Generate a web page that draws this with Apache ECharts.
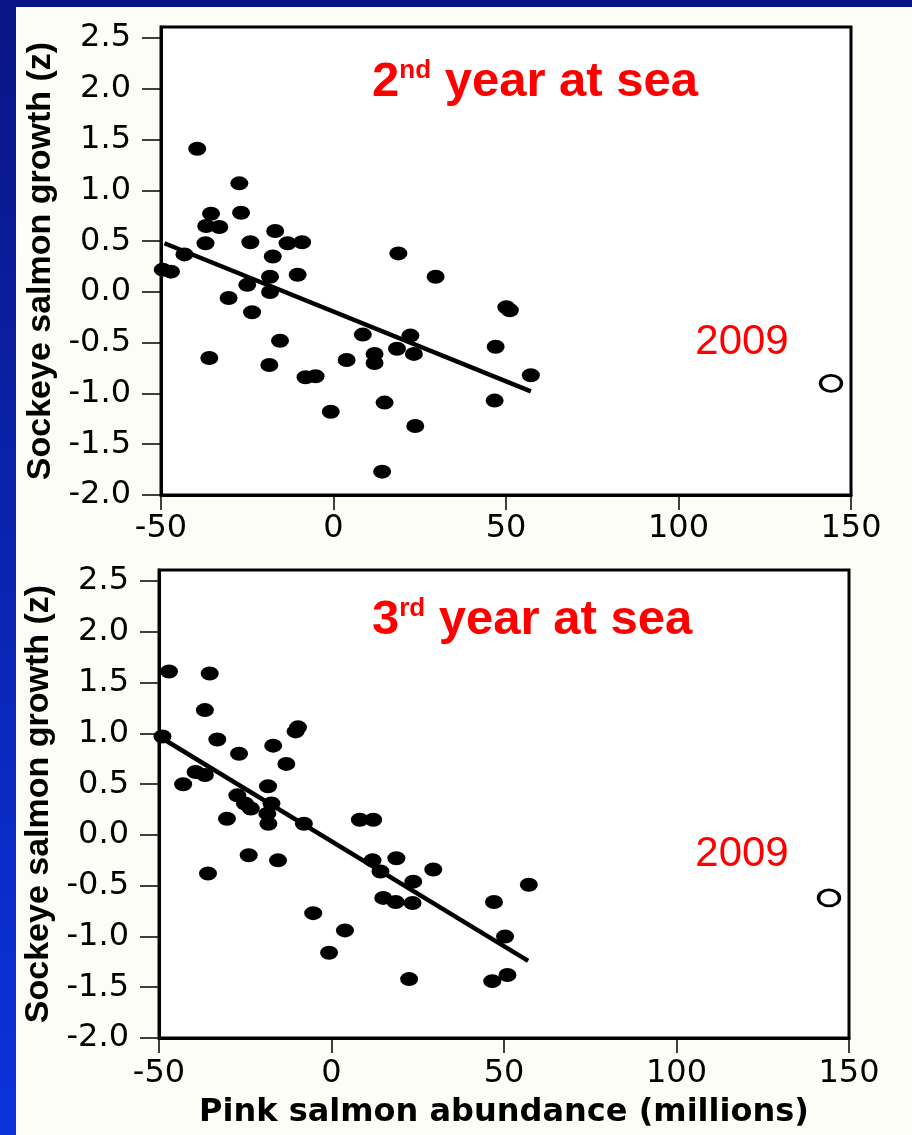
<!DOCTYPE html>
<html>
<head>
<meta charset="utf-8">
<title>Sockeye salmon growth vs pink salmon abundance</title>
<script src="https://cdn.jsdelivr.net/npm/echarts@6/dist/echarts.min.js"></script>
<style>
  html, body { margin: 0; padding: 0; background: #fdfdf8; }
  #chart { width: 912px; height: 1135px; }
</style>
</head>
<body>
<div id="chart"></div>
<script>
  // 2nd year at sea: pink salmon abundance (millions) and sockeye growth (z)
  const pink2nd = [-39.5, -27.3, -35.5, -26.8, -36.9, -33.1, -16.9, -37.1, -24.1, -13.3,
    -9.1, -43.2, -17.6, 18.8, -49.5, -47.1, -18.4, -10.4, 29.6, -25.0,
    -18.4, -30.4, -23.6, 50.1, 51.1, -15.5, 8.5, 22.3, 47.0, 18.4,
    23.3, -36.0, 3.8, 11.9, 11.9, -18.6, -8.1, -5.2, 57.2, 46.7,
    14.8, -0.8, 23.7, 14.1];
  const growth2nd = [1.41, 1.07, 0.77, 0.78, 0.65, 0.64, 0.60, 0.48, 0.49, 0.48,
    0.49, 0.37, 0.35, 0.38, 0.22, 0.20, 0.15, 0.17, 0.15, 0.07,
    0.00, -0.06, -0.20, -0.15, -0.18, -0.48, -0.42, -0.43, -0.54, -0.56,
    -0.61, -0.65, -0.67, -0.61, -0.70, -0.72, -0.84, -0.83, -0.82, -1.07,
    -1.09, -1.18, -1.32, -1.77];
  const fitPink2nd = [-49.0, 57.2];
  const fitGrowth2nd = [0.48, -0.98];

  // 3rd year at sea
  const pink3rd = [-47.1, -35.3, -36.7, -49.0, -9.7, -10.4, -33.1, -26.8, -16.9, -13.1,
    -39.4, -36.7, -43.0, -18.4, -27.3, -17.4, -25.1, -23.4, -18.6, -30.3,
    -18.3, -8.0, 8.2, 12.1, -24.0, -15.5, -35.8, 11.9, 18.8, 14.2,
    29.5, 23.7, 57.2, 15.0, 18.6, 23.5, 47.1, -5.3, 3.9, 50.3,
    -0.7, 22.5, 46.6, 51.0];
  const growth3rd = [1.61, 1.59, 1.23, 0.97, 1.06, 1.02, 0.94, 0.80, 0.88, 0.70,
    0.62, 0.59, 0.50, 0.48, 0.39, 0.31, 0.31, 0.26, 0.21, 0.16,
    0.11, 0.11, 0.15, 0.15, -0.20, -0.25, -0.38, -0.25, -0.23, -0.36,
    -0.34, -0.46, -0.49, -0.62, -0.66, -0.67, -0.66, -0.77, -0.94, -1.00,
    -1.16, -1.42, -1.44, -1.38];
  const fitPink3rd = [-49.0, 57.0];
  const fitGrowth3rd = [0.95, -1.24];

  // 2009 (open circle)
  const pink2009 = 144.2;
  const growth2009 = [-0.90, -0.62];

  const xTicks = [-50, 0, 50, 100, 150];
  const yTicks = [-2.0, -1.5, -1.0, -0.5, 0.0, 0.5, 1.0, 1.5, 2.0, 2.5];
  const yTop = 2.61; // box top sits a little above the 2.5 tick

  const zip = (xs, ys) => xs.map((x, i) => [x, ys[i]]);

  const arial = '"Liberation Sans", Arial, sans-serif';
  const dejavu = '"DejaVu Sans", sans-serif';

  function makeX(idx, withName) {
    const ax = {
      type: 'value',
      gridIndex: idx,
      min: xTicks[0],
      max: xTicks[xTicks.length - 1],
      interval: 50,
      axisLine: { show: true, onZero: false, lineStyle: { color: '#000', width: 3 } },
      axisTick: { show: true, length: 15, lineStyle: { color: '#000', width: 1.5 } },
      axisLabel: { margin: idx === 0 ? 18 : 20, fontSize: 32, fontFamily: dejavu, color: '#000' },
      splitLine: { show: false }
    };
    if (withName) {
      ax.name = 'Pink salmon abundance (millions)';
      ax.nameLocation = 'middle';
      ax.nameGap = 59;
      ax.nameTextStyle = { fontSize: 32, fontWeight: 'bold', fontFamily: dejavu, color: '#000' };
    }
    return ax;
  }

  function makeY(idx) {
    return {
      type: 'value',
      gridIndex: idx,
      min: yTicks[0],
      max: yTop,
      interval: 0.5,
      name: 'Sockeye salmon growth (z)',
      nameLocation: 'middle',
      nameRotate: 90,
      nameGap: 100,
      nameTextStyle: { fontSize: 34, fontWeight: 'bold', fontFamily: arial, color: '#000' },
      axisLine: { show: true, onZero: false, lineStyle: { color: '#000', width: 3 } },
      axisTick: { show: true, length: 19, customValues: yTicks, lineStyle: { color: '#000', width: 1.5 } },
      axisLabel: {
        margin: 30, fontSize: 32, fontFamily: dejavu, color: '#000',
        customValues: yTicks,
        formatter: v => (Math.abs(v * 2 - Math.round(v * 2)) > 1e-6 ? '' : v.toFixed(1))
      },
      splitLine: { show: false }
    };
  }

  function dots(idx, xs, ys) {
    return {
      type: 'scatter', xAxisIndex: idx, yAxisIndex: idx,
      data: zip(xs, ys),
      symbol: 'circle', symbolSize: [18, 14],
      itemStyle: { color: '#000', opacity: 1 },
      silent: true
    };
  }

  function fit(idx, xs, ys) {
    return {
      type: 'line', xAxisIndex: idx, yAxisIndex: idx,
      data: zip(xs, ys),
      symbol: 'none',
      lineStyle: { color: '#000', width: 4.5, opacity: 1 },
      silent: true, z: 3
    };
  }

  function open2009(idx, y) {
    return {
      type: 'scatter', xAxisIndex: idx, yAxisIndex: idx,
      data: [[pink2009, y]],
      symbol: 'circle', symbolSize: [21, 16],
      itemStyle: { color: '#fff', borderColor: '#000', borderWidth: 3, opacity: 1 },
      silent: true
    };
  }

  function heading(top, num, sup) {
    return {
      left: 372, top: top, padding: 0,
      text: '{n|' + num + '}{s|' + sup + '}{n| year at sea}',
      textStyle: {
        rich: {
          n: { fontSize: 49, fontWeight: 'bold', fontFamily: arial, color: '#ff0000', lineHeight: 48 },
          s: { fontSize: 26, fontWeight: 'bold', fontFamily: arial, color: '#ff0000', lineHeight: 26, verticalAlign: 'top' }
        }
      }
    };
  }

  function label2009(y) {
    return {
      type: 'text', x: 742, y: y, z: 10,
      style: { text: '2009', fontSize: 42, fontFamily: arial, fill: '#ff0000', align: 'center', verticalAlign: 'middle' }
    };
  }

  const chart = echarts.init(document.getElementById('chart'));
  chart.setOption({
    animation: false,
    backgroundColor: '#fdfdf8',
    title: [heading(58, '2', 'nd'), heading(596, '3', 'rd')],
    grid: [
      { left: 161, top: 27, width: 690, height: 468, show: true, backgroundColor: '#fff', borderColor: '#000', borderWidth: 3 },
      { left: 159, top: 570, width: 690, height: 468, show: true, backgroundColor: '#fff', borderColor: '#000', borderWidth: 3 }
    ],
    xAxis: [makeX(0, false), makeX(1, true)],
    yAxis: [makeY(0), makeY(1)],
    series: [
      dots(0, pink2nd, growth2nd),
      fit(0, fitPink2nd, fitGrowth2nd),
      open2009(0, growth2009[0]),
      dots(1, pink3rd, growth3rd),
      fit(1, fitPink3rd, fitGrowth3rd),
      open2009(1, growth2009[1])
    ],
    graphic: [
      label2009(342),
      label2009(854),
      // slide frame: dark top band and blue left band
      {
        type: 'rect', left: 0, top: 0, z: 100,
        shape: { width: 16, height: 1135 },
        style: {
          fill: new echarts.graphic.LinearGradient(0, 0, 0, 1, [
            { offset: 0, color: '#0a1585' },
            { offset: 1, color: '#0a33dd' }
          ])
        }
      },
      {
        type: 'rect', left: 0, top: 0, z: 100,
        shape: { width: 912, height: 7 },
        style: { fill: '#0a1585' }
      }
    ]
  });
</script>
</body>
</html>
